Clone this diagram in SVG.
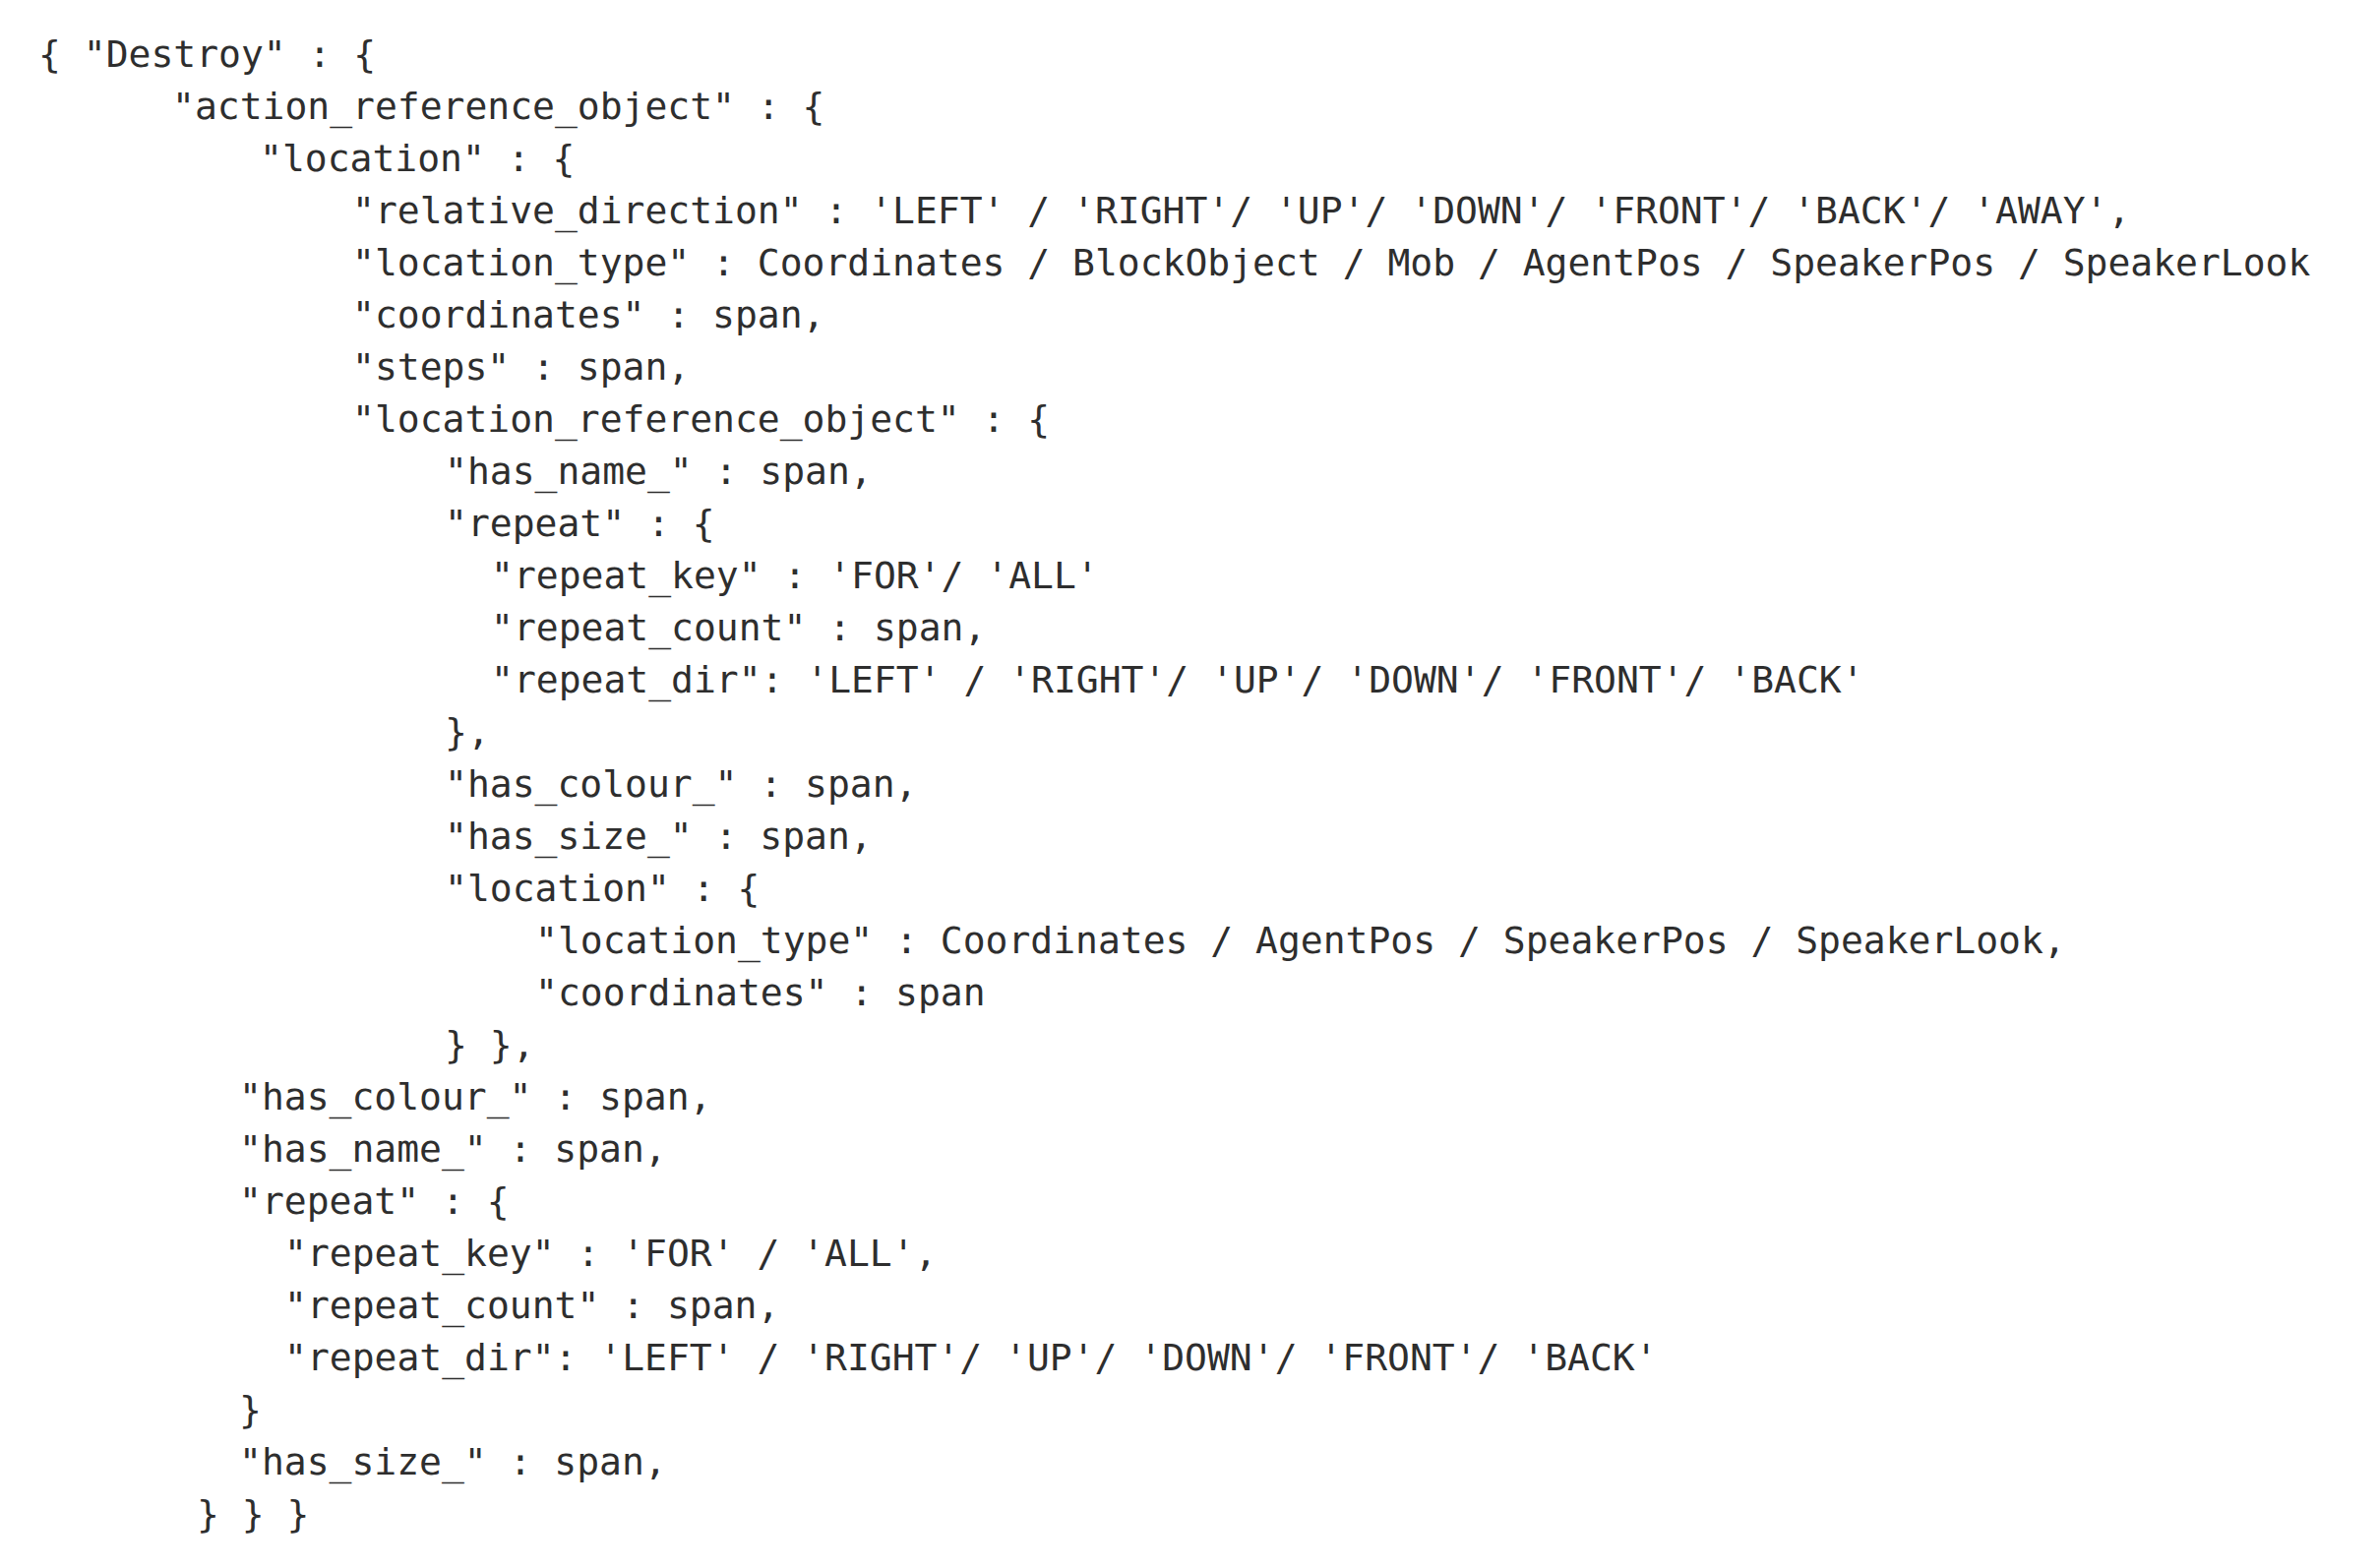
<svg xmlns="http://www.w3.org/2000/svg" width="2416" height="1594" viewBox="0 0 2416 1594">
<style>
text { font-family: "DejaVu Sans Mono", "Liberation Mono", monospace; font-size: 38px; fill: #2e2e2e; white-space: pre; }
</style>
<rect x="0" y="0" width="2416" height="1594" fill="#ffffff"/>
<g id="code">
<text x="39" y="68">{ "Destroy" : {</text>
<text x="175" y="121">"action_reference_object" : {</text>
<text x="264" y="174">"location" : {</text>
<text x="358" y="227">"relative_direction" : 'LEFT' / 'RIGHT'/ 'UP'/ 'DOWN'/ 'FRONT'/ 'BACK'/ 'AWAY',</text>
<text x="358" y="280">"location_type" : Coordinates / BlockObject / Mob / AgentPos / SpeakerPos / SpeakerLook</text>
<text x="358" y="333">"coordinates" : span,</text>
<text x="358" y="386">"steps" : span,</text>
<text x="358" y="439">"location_reference_object" : {</text>
<text x="452" y="492">"has_name_" : span,</text>
<text x="452" y="545">"repeat" : {</text>
<text x="499" y="598">"repeat_key" : 'FOR'/ 'ALL'</text>
<text x="499" y="651">"repeat_count" : span,</text>
<text x="499" y="704">"repeat_dir": 'LEFT' / 'RIGHT'/ 'UP'/ 'DOWN'/ 'FRONT'/ 'BACK'</text>
<text x="452" y="757">},</text>
<text x="452" y="810">"has_colour_" : span,</text>
<text x="452" y="863">"has_size_" : span,</text>
<text x="452" y="916">"location" : {</text>
<text x="544" y="969">"location_type" : Coordinates / AgentPos / SpeakerPos / SpeakerLook,</text>
<text x="544" y="1022">"coordinates" : span</text>
<text x="452" y="1075">} },</text>
<text x="243" y="1128">"has_colour_" : span,</text>
<text x="243" y="1181">"has_name_" : span,</text>
<text x="243" y="1234">"repeat" : {</text>
<text x="289" y="1287">"repeat_key" : 'FOR' / 'ALL',</text>
<text x="289" y="1340">"repeat_count" : span,</text>
<text x="289" y="1393">"repeat_dir": 'LEFT' / 'RIGHT'/ 'UP'/ 'DOWN'/ 'FRONT'/ 'BACK'</text>
<text x="243" y="1446">}</text>
<text x="243" y="1499">"has_size_" : span,</text>
<text x="200" y="1552">} } }</text>
</g>
</svg>
